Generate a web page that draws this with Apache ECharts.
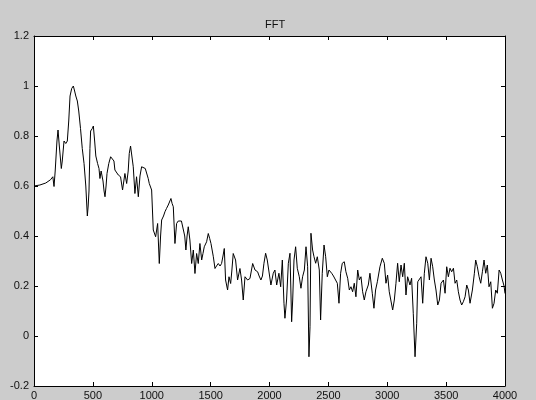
<!DOCTYPE html>
<html>
<head>
<meta charset="utf-8">
<script src="https://cdn.jsdelivr.net/npm/echarts@6/dist/echarts.min.js"></script>
<style>
html,body{margin:0;padding:0;background:#cccccc;}
#c{width:536px;height:400px;}
</style>
</head>
<body>
<div id="c"></div>
<script>
var titleText = 'FFT';
var freqs = [0,50,100,140,160,170,180,195,204,215,232,240,255,270,283,295,306,320,334,345,355,368,380,395,410,425,440,453,460,467,475,481,495,504,515,525,540,552,560,570,586,595,603,612,620,635,651,665,679,687,700,716,735,752,772,787,800,809,820,829,843,857,871,886,900,914,928,945,956,970,979,999,1013,1033,1050,1064,1075,1084,1100,1112,1125,1140,1150,1163,1173,1183,1197,1211,1225,1239,1252,1268,1280,1290,1300,1310,1324,1339,1353,1367,1381,1395,1409,1424,1435,1446,1466,1480,1492,1503,1523,1537,1550,1565,1580,1593,1605,1616,1627,1644,1656,1670,1680,1692,1712,1729,1749,1763,1777,1792,1814,1834,1857,1877,1899,1912,1927,1940,1953,1967,1981,1995,2012,2032,2046,2061,2080,2095,2109,2123,2131,2145,2160,2174,2188,2197,2208,2222,2236,2253,2267,2281,2296,2310,2324,2335,2344,2352,2366,2378,2392,2406,2423,2434,2448,2463,2477,2491,2505,2528,2543,2556,2576,2590,2604,2618,2635,2649,2664,2678,2692,2706,2720,2734,2749,2763,2777,2791,2805,2819,2839,2853,2873,2887,2901,2916,2938,2958,2975,2989,3003,3017,3032,3046,3060,3074,3088,3102,3117,3131,3145,3159,3173,3193,3207,3221,3236,3250,3259,3273,3287,3301,3315,3329,3344,3358,3372,3386,3400,3414,3429,3443,3457,3477,3491,3505,3519,3533,3547,3562,3576,3590,3604,3618,3632,3646,3661,3675,3689,3703,3723,3740,3751,3765,3780,3794,3808,3822,3836,3850,3864,3879,3893,3907,3921,3935,3950,3964,3978,3992,4000];
var amps = [0.600,0.604,0.612,0.625,0.637,0.598,0.66,0.78,0.824,0.76,0.67,0.70,0.78,0.77,0.78,0.86,0.96,0.99,1.0,0.98,0.96,0.94,0.90,0.83,0.75,0.69,0.60,0.48,0.52,0.58,0.75,0.82,0.83,0.84,0.78,0.72,0.69,0.67,0.63,0.66,0.62,0.58,0.557,0.60,0.65,0.69,0.717,0.72,0.70,0.664,0.66,0.644,0.637,0.584,0.65,0.61,0.66,0.73,0.76,0.757,0.677,0.57,0.637,0.557,0.64,0.677,0.684,0.67,0.664,0.63,0.61,0.584,0.424,0.397,0.45,0.29,0.40,0.464,0.48,0.497,0.51,0.524,0.53,0.55,0.53,0.517,0.37,0.45,0.46,0.464,0.46,0.464,0.40,0.344,0.40,0.437,0.384,0.29,0.344,0.25,0.33,0.29,0.37,0.304,0.33,0.357,0.377,0.41,0.39,0.37,0.317,0.27,0.28,0.29,0.28,0.29,0.32,0.35,0.224,0.184,0.237,0.21,0.26,0.33,0.304,0.224,0.27,0.224,0.144,0.237,0.224,0.23,0.29,0.264,0.257,0.24,0.224,0.24,0.291,0.331,0.304,0.297,0.204,0.251,0.264,0.204,0.251,0.197,0.304,0.131,0.071,0.144,0.291,0.331,0.057,0.144,0.304,0.357,0.271,0.237,0.191,0.237,0.264,0.357,0.277,-0.083,0.037,0.411,0.344,0.317,0.291,0.317,0.264,0.064,0.251,0.364,0.317,0.237,0.264,0.251,0.24,0.237,0.211,0.131,0.251,0.291,0.297,0.257,0.231,0.184,0.197,0.177,0.211,0.157,0.264,0.224,0.237,0.177,0.144,0.177,0.204,0.251,0.171,0.111,0.184,0.217,0.277,0.311,0.291,0.211,0.244,0.177,0.184,0.104,0.144,0.211,0.291,0.217,0.284,0.237,0.291,0.164,0.237,0.204,0.231,0.091,-0.083,0.051,0.217,0.224,0.237,0.131,0.251,0.317,0.291,0.224,0.311,0.277,0.224,0.184,0.124,0.144,0.211,0.224,0.171,0.277,0.237,0.271,0.257,0.271,0.211,0.224,0.177,0.144,0.124,0.137,0.157,0.204,0.184,0.131,0.184,0.251,0.304,0.277,0.237,0.211,0.257,0.304,0.251,0.284,0.197,0.217,0.111,0.131,0.184,0.171,0.264,0.251,0.224,0.20,0.17];
var xTicks = {min:0, max:4000, interval:500};
var yTicks = {min:-0.2, max:1.2, interval:0.2};

var pts = freqs.map(function(f,i){return [f, amps[i]];});
var font = 'Liberation Sans, Arial, sans-serif';
var axisLineStyle = {color:'#000', width:1};
function xAx(pos, showLabel){
  return {type:'value', position:pos, min:xTicks.min, max:xTicks.max, interval:xTicks.interval,
    axisLine:{show:true, onZero:false, lineStyle:axisLineStyle},
    axisTick:{show:true, inside:true, length:4, lineStyle:axisLineStyle},
    axisLabel:{show:showLabel, color:'#111', fontFamily:font, fontSize:11, margin:4, showMinLabel:true, showMaxLabel:true,
      formatter:function(v){return String(v);}},
    splitLine:{show:false}};
}
function yAx(pos, showLabel){
  return {type:'value', position:pos, min:yTicks.min, max:yTicks.max, interval:yTicks.interval,
    axisLine:{show:true, onZero:false, lineStyle:axisLineStyle},
    axisTick:{show:true, inside:true, length:4, lineStyle:axisLineStyle},
    axisLabel:{show:showLabel, color:'#111', fontFamily:font, fontSize:11, margin:5,
      formatter:function(v){return String(Math.round(v*10)/10);}},
    splitLine:{show:false}};
}
var chart = echarts.init(document.getElementById('c'), null, {renderer:'canvas'});
chart.setOption({
  backgroundColor:'#cccccc',
  animation:false,
  title:{text:titleText, left:260, top:14, textStyle:{fontFamily:font, fontSize:11, fontWeight:'normal', color:'#111'}},
  grid:{left:34, right:31, top:36, bottom:14, show:true, backgroundColor:'#ffffff', borderWidth:0, containLabel:false, outerBoundsMode:'none'},
  xAxis:[xAx('bottom', true), xAx('top', false)],
  yAxis:[yAx('left', true), yAx('right', false)],
  series:[{type:'line', xAxisIndex:0, yAxisIndex:0, data:pts, showSymbol:false, symbol:'none',
    lineStyle:{color:'#000', width:1}, clip:true}]
});
</script>
</body>
</html>
